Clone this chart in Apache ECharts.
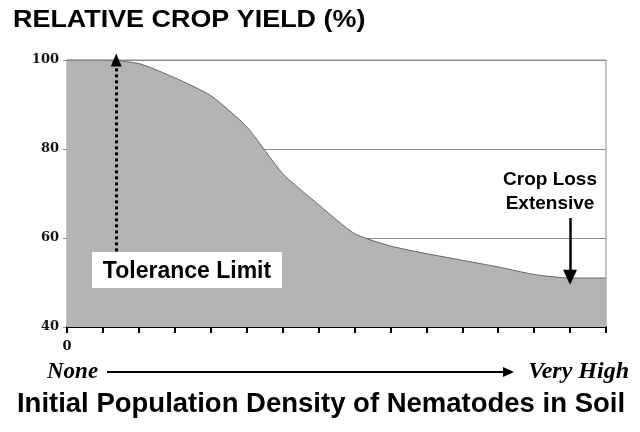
<!DOCTYPE html>
<html><head><meta charset="utf-8">
<script src="https://cdn.jsdelivr.net/npm/echarts@6/dist/echarts.min.js"></script>
<style>html,body{margin:0;padding:0;background:#fff}#c{width:640px;height:432px}</style>
</head><body><div id="c"></div>
<script>
// Nematode population density steps (0 = none ... 15 = very high)
const densitySteps = [0,1,2,3,4,5,6,7,8,9,10,11,12,13,14,15];
// Relative crop yield (%)
const relativeYield = [100,100,99.2,96,92,85,74.5,67.5,61,58.2,56.5,55,53.5,51.8,51,51];
const yTicks = [40,60,80,100];
const toleranceArrow = {x:1.37, from:57, to:100};
const lossArrow = {x:14.0, from:64.5, to:51.2};

const chart = echarts.init(document.getElementById('c'), null, {renderer:'canvas'});
const serif = '"Liberation Serif","Times New Roman",serif';
const wideSerif = '"DejaVu Serif",serif';
const sans = '"Liberation Sans",Arial,sans-serif';
chart.setOption({
  animation:false,
  backgroundColor:'#fff',
  grid:{left:67,right:34,top:60,bottom:105,show:true,borderColor:'#8c8c8c',borderWidth:1,backgroundColor:'transparent'},
  xAxis:{type:'value',min:0,max:15,interval:1,
    axisLine:{show:true,lineStyle:{color:'#000',width:2}},
    axisTick:{show:true,length:6,lineStyle:{color:'#000',width:2}},
    splitLine:{show:false},
    axisLabel:{margin:13,fontFamily:wideSerif,fontWeight:'bold',fontSize:13,color:'#111',
      formatter:v=>v===densitySteps[0]?String(v):''}},
  yAxis:{type:'value',min:yTicks[0],max:yTicks[yTicks.length-1],interval:20,
    axisLine:{show:true,lineStyle:{color:'#8c8c8c',width:1}},
    axisTick:{show:true,length:4,lineStyle:{color:'#8c8c8c'}},
    splitLine:{show:true,lineStyle:{color:'#8c8c8c',width:1}},
    axisLabel:{margin:8,fontFamily:wideSerif,fontWeight:'bold',fontSize:13,color:'#111'}},
  series:[{
    type:'line',
    data:densitySteps.map((x,i)=>[x,relativeYield[i]]),
    symbol:'none',
    smooth:0.2,
    lineStyle:{color:'#666',width:1},
    areaStyle:{color:'#b3b3b3',opacity:1,origin:'start'},
    z:2,
    markLine:{silent:true,symbol:['none','triangle'],
      label:{show:false},
      data:[
        [{coord:[toleranceArrow.x,toleranceArrow.from],symbolSize:[11,13],lineStyle:{type:[3,3],width:3,color:'#000'}},
         {coord:[toleranceArrow.x,toleranceArrow.to],symbolSize:[11,13]}],
        [{coord:[lossArrow.x,lossArrow.from],symbolSize:[14,15],lineStyle:{type:'solid',width:2.5,color:'#000'}},
         {coord:[lossArrow.x,lossArrow.to],symbolSize:[14,15]}]
      ]}
  }],
  graphic:[
    {type:'text',x:13,y:21,scaleX:1.17,style:{text:'RELATIVE CROP YIELD (%)',font:'bold 23px '+sans,fill:'#000',verticalAlign:'middle'}},
    {type:'rect',shape:{x:92,y:252,width:190,height:36},style:{fill:'#fff'},z:10},
    {type:'text',x:187,y:272,style:{text:'Tolerance Limit',font:'bold 23px '+sans,fill:'#000',align:'center',verticalAlign:'middle'},z:11},
    {type:'text',x:550,y:192,style:{text:'Crop Loss\nExtensive',font:'bold 19px '+sans,fill:'#000',align:'center',verticalAlign:'middle',lineHeight:24},z:11},
    {type:'text',x:47,y:372,style:{text:'None',font:'italic bold 23px '+serif,fill:'#000',verticalAlign:'middle'}},
    {type:'line',shape:{x1:107,y1:372,x2:506,y2:372},style:{stroke:'#000',lineWidth:2}},
    {type:'polygon',shape:{points:[[503,367],[514,372],[503,377]]},style:{fill:'#000'}},
    {type:'text',x:629,y:372,style:{text:'Very High',font:'italic bold 24px '+serif,fill:'#000',align:'right',verticalAlign:'middle'}},
    {type:'text',x:321,y:404,style:{text:'Initial Population Density of Nematodes in Soil',font:'bold 27.5px '+sans,fill:'#000',align:'center',verticalAlign:'middle'}}
  ]
});
</script></body></html>
